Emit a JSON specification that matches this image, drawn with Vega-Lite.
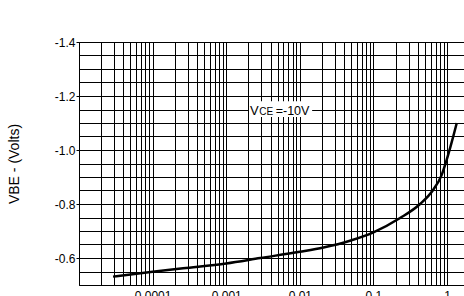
{
  "$schema": "https://vega.github.io/schema/vega-lite/v6.json",
  "width": 385,
  "height": 243,
  "autosize": {"type": "none"},
  "padding": {"left": 79, "top": 42, "right": 0, "bottom": 11},
  "background": "white",
  "config": {
    "font": "Liberation Sans",
    "view": {"stroke": "#000", "strokeWidth": 1},
    "axis": {"labelFont": "Liberation Sans", "titleFont": "Liberation Sans", "labelColor": "#000", "titleColor": "#000", "domain": false}
  },
  "datasets": {
    "curve": [
      {"ic": 0.000029, "vbe": -0.531},
      {"ic": 0.0001, "vbe": -0.549},
      {"ic": 0.00026, "vbe": -0.562},
      {"ic": 0.001, "vbe": -0.580},
      {"ic": 0.0029, "vbe": -0.600},
      {"ic": 0.01, "vbe": -0.623},
      {"ic": 0.021, "vbe": -0.639},
      {"ic": 0.048, "vbe": -0.664},
      {"ic": 0.1, "vbe": -0.695},
      {"ic": 0.23, "vbe": -0.748},
      {"ic": 0.43, "vbe": -0.800},
      {"ic": 0.65, "vbe": -0.853},
      {"ic": 0.847, "vbe": -0.908},
      {"ic": 0.99, "vbe": -0.964},
      {"ic": 1.16, "vbe": -1.03},
      {"ic": 1.355, "vbe": -1.1}
    ],
    "box": [{"x1": 0.00204, "x2": 0.0147, "y1": -1.181, "y2": -1.122}],
    "labels": [
      {"x": 0.0021, "y": -1.13, "t": "V", "s": 13},
      {"x": 0.00282, "y": -1.13, "t": "CE", "s": 10},
      {"x": 0.0047, "y": -1.13, "t": "=-10V", "s": 12.5}
    ]
  },
  "layer": [
    {
      "data": {"name": "curve"},
      "mark": {"type": "line", "color": "#000", "strokeWidth": 2.5, "interpolate": "monotone"},
      "encoding": {
        "x": {
          "field": "ic", "type": "quantitative",
          "scale": {"type": "log", "domain": [0.00001, 1.7], "nice": false},
          "axis": {
            "title": null,
            "tickCount": 200,
            "values": [0.00001,0.00002,0.00003,0.00004,0.00005,0.00006,0.00007,0.00008,0.00009,
                       0.0001,0.0002,0.0003,0.0004,0.0005,0.0006,0.0007,0.0008,0.0009,
                       0.001,0.002,0.003,0.004,0.005,0.006,0.007,0.008,0.009,
                       0.01,0.02,0.03,0.04,0.05,0.06,0.07,0.08,0.09,
                       0.1,0.2,0.3,0.4,0.5,0.6,0.7,0.8,0.9,1],
            "labelExpr": "(datum.value > 0.00005 && abs(log(datum.value)/LN10 - round(log(datum.value)/LN10)) < 0.000001) ? format(datum.value, '~g') : ''",
            "labelFontSize": 12,
            "labelPadding": 5,
            "labelFlush": false,
            "labelOverlap": false,
            "ticks": false,
            "grid": true, "gridColor": "#000", "gridOpacity": 1, "gridWidth": 1
          }
        },
        "y": {
          "field": "vbe", "type": "quantitative",
          "scale": {"domain": [-1.4, -0.5], "reverse": true, "nice": false, "zero": false},
          "axis": {
            "title": "VBE - (Volts)",
            "titleFontSize": 14,
            "titleFontWeight": "normal",
            "titlePadding": 33,
            "tickCount": 200,
            "values": [-1.4,-1.35,-1.3,-1.25,-1.2,-1.15,-1.1,-1.05,-1.0,-0.95,-0.9,-0.85,-0.8,-0.75,-0.7,-0.65,-0.6,-0.55,-0.5],
            "labelExpr": "(abs(round(datum.value*100)) % 20 == 0 && datum.value < -0.55) ? '-' + format(abs(datum.value), '.1f') : ''",
            "labelFontSize": 12,
            "labelPadding": 1,
            "labelOverlap": false,
            "ticks": true,
            "tickSize": {"condition": {"test": "abs(round(datum.value*100)) % 20 == 0 && datum.value < -0.55", "value": 3}, "value": 0},
            "tickColor": "#000",
            "grid": true, "gridColor": "#000", "gridOpacity": 1, "gridWidth": 1
          }
        }
      }
    },
    {
      "data": {"name": "box"},
      "mark": {"type": "rect", "fill": "white"},
      "encoding": {
        "x": {"field": "x1", "type": "quantitative"},
        "x2": {"field": "x2"},
        "y": {"field": "y1", "type": "quantitative"},
        "y2": {"field": "y2"}
      }
    },
    {
      "data": {"name": "labels"},
      "mark": {"type": "text", "align": "left", "baseline": "alphabetic", "color": "#000", "font": "Liberation Sans"},
      "encoding": {
        "x": {"field": "x", "type": "quantitative"},
        "y": {"field": "y", "type": "quantitative"},
        "text": {"field": "t"},
        "size": {"field": "s", "type": "quantitative", "scale": null}
      }
    }
  ]
}
